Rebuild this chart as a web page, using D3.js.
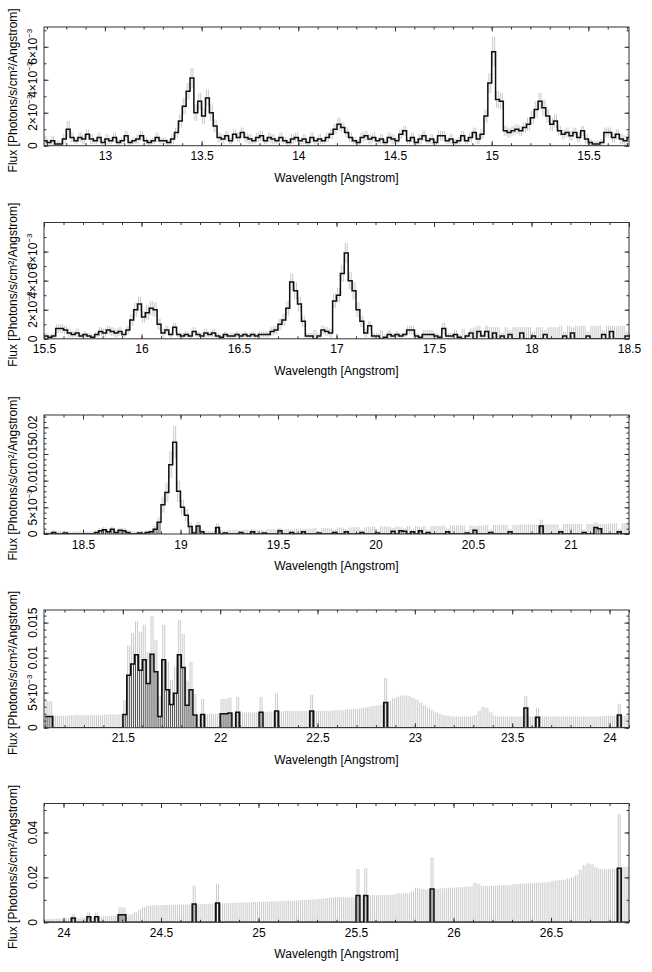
<!DOCTYPE html>
<html>
<head>
<meta charset="utf-8">
<script src="https://cdn.jsdelivr.net/npm/d3@7"></script>
<style>
  body { margin: 0; background: #fff; }
  svg { display: block; font-family: "Liberation Sans", Arial, Helvetica, sans-serif; }
</style>
</head>
<body>
<div id="chart"></div>
<script>
const width = 652;
const height = 972;
const plotLeft = 44;
const plotRight = 629;
const binWidth = 0.02;   // Angstrom
const unit = 1e-4;       // flux arrays are in units of 1e-4 photons/s/cm2/A
const fontSize = 12;

// panel geometry (px) and ranges
const panelTop = [27, 222.5, 415, 610, 803.5];
const panelBottom = [145.7, 338.8, 534, 727.7, 922.3];
const xDomains = [[12.685, 15.71], [15.5, 18.5], [18.3, 21.3], [21.095, 24.1], [23.9, 26.9]];
const yMax = [7.2e-3, 8e-3, 0.0223, 0.0168, 0.0529];
const binStart = [12.68, 15.50, 18.30, 21.10, 23.90];
// low-count panels: bars with large relative error are drawn hatched dark
const darkUnder = [false, false, true, true, true];

// tick marks / labels
const xMajorTicks = [
  [13, 13.5, 14, 14.5, 15, 15.5],
  [15.5, 16, 16.5, 17, 17.5, 18, 18.5],
  [18.5, 19, 19.5, 20, 20.5, 21],
  [21.5, 22, 22.5, 23, 23.5, 24],
  [24, 24.5, 25, 25.5, 26, 26.5]
];
const yTicks = [
  [0, 0.002, 0.004, 0.006],
  [0, 0.002, 0.004, 0.006],
  [0, 0.005, 0.01, 0.015, 0.02],
  [0, 0.005, 0.01, 0.015],
  [0, 0.02, 0.04]
];
const yTickLabels = [
  ['0', '2×10|−3', '4×10|−3', '6×10|−3'],
  ['0', '2×10|−3', '4×10|−3', '6×10|−3'],
  ['0', '5×10|−3', '0.01', '0.015', '0.02'],
  ['0', '5×10|−3', '0.01', '0.015'],
  ['0', '0.02', '0.04']
];
const yMinorStep = [0.001, 0.001, 0.001, 0.001, 0.01];

// flux per 0.02 A bin (1e-4 units)
const flux1 = [3,2,3,1,1,4,10,5,3,5, 4,7,4,3,5,2,4,3,5,2, 3,6,2,3,4,6,3,2,3,5,
  3,3,2,4,8,15,24,33,41,20, 27,18,29,20,12,5,4,6,3,7, 5,8,5,4,3,5,6,3,5,4,
  3,5,3,2,4,5,3,4,2,5, 3,4,3,5,7,10,13,11,8,5, 3,2,5,6,4,5,3,4,2,5,
  4,3,7,9,3,5,2,4,6,3, 4,2,6,6,3,4,2,3,6,3, 5,8,4,7,18,38,57,28,27,9,
  8,9,10,9,11,13,17,22,27,23, 18,13,15,9,7,8,6,8,5,9, 4,2,1,1,2,8,8,5,7,4, 3,5];
const err1 = [3,2,3,2,2,3,5,3,2,3, 3,3,3,2,3,2,3,2,3,2, 2,3,2,2,3,3,2,2,2,3,
  2,2,2,3,3,4,5,5,6,5, 5,5,5,5,4,3,3,3,2,3, 3,3,3,3,2,3,3,2,3,3,
  2,3,2,2,3,3,2,3,2,3, 2,3,2,3,3,3,4,3,3,3, 2,2,3,3,3,3,2,3,2,3,
  3,2,3,3,2,3,2,3,3,2, 3,2,3,3,2,3,2,2,3,2, 3,3,3,3,4,6,9,5,5,3,
  3,3,3,3,3,4,4,5,5,5, 4,4,4,3,3,3,3,3,3,3, 3,2,2,2,2,3,3,3,3,3, 3,3];

const flux2 = [2,1,2,7,7,6,4,3,4,2, 3,2,1,3,5,4,6,5,4,5, 3,6,13,20,24,15,18,21,20,10,
  4,6,3,8,3,2,3,2,5,3, 2,4,3,4,2,1,3,2,2,3, 2,3,2,3,2,3,3,3,5,6,
  10,13,21,39,33,24,12,2,2,0, 2,6,5,4,26,30,45,59,40,33, 20,12,4,9,2,2,0,1,3,2,
  3,2,3,6,6,2,1,3,3,3, 2,1,7,2,2,3,1,0,2,4, 0,5,2,5,0,4,0,2,0,3,
  0,0,4,0,0,2,0,0,3,0, 0,0,0,2,0,4,0,0,0,2, 0,0,0,3,0,5,0,0,0,2];
const err2 = [2,2,2,3,3,3,3,2,3,2, 2,2,2,2,3,3,3,3,3,3, 2,3,4,5,5,4,5,5,5,4,
  3,3,2,3,2,2,2,2,3,2, 2,3,2,3,2,2,2,2,2,2, 2,2,2,2,2,2,2,2,3,3,
  4,4,5,6,6,5,4,2,2,6, 2,3,3,3,5,5,6,7,6,6, 5,4,3,3,2,2,6,2,3,2,
  2,2,2,3,3,2,2,3,3,3, 2,2,4,2,2,3,2,7,2,3, 8,4,2,4,8,4,8,2,8,3,
  8,8,4,8,8,3,8,8,3,8, 8,8,9,3,9,4,9,9,9,3, 9,9,9,3,9,4,9,9,9,3];

const flux3 = [0,0,3,0,0,2,0,0,0,0, 0,0,0,3,6,8,4,9,3,7, 6,3,0,0,2,0,3,4,9,22,
  55,78,130,172,80,50,35,14,2,15, 4,0,0,0,12,0,2,0,0,0, 3,0,0,4,0,0,2,0,0,0,
  6,0,0,3,0,0,4,0,0,0, 2,0,0,0,3,0,0,4,0,0, 0,3,0,0,0,2,0,0,0,5,
  0,6,5,0,4,0,6,0,3,0, 0,0,0,4,0,0,0,0,2,0, 7,0,0,0,3,0,0,0,0,4,
  0,0,0,0,0,0,0,15,0,0, 0,0,4,0,0,0,0,0,3,0, 0,12,10,0,0,0,0,4,0,0];
const err3 = [5,5,4,5,5,4,5,5,5,5, 5,5,5,4,5,5,4,5,4,5, 5,4,5,5,4,5,4,4,6,9,
  15,18,25,30,20,14,12,8,5,8, 5,6,6,6,8,7,4,7,7,8, 4,8,8,5,8,8,4,9,9,9,
  6,9,9,5,10,10,5,10,10,11, 4,11,11,11,5,12,12,5,12,13, 13,5,13,13,14,4,14,14,14,6,
  14,7,6,15,6,15,7,15,5,15, 15,15,16,6,16,16,16,16,5,16, 8,16,16,17,5,17,17,17,17,6,
  17,17,18,18,18,18,18,12,18,18, 18,18,6,19,19,19,19,19,5,19, 19,10,9,19,19,20,20,6,20,20];

const flux4 = [16,16,0,0,0,0,0,0,0,0, 0,0,0,0,0,0,0,0,0,0,
  19,75,91,104,82,97,63,105,80,16, 97,54,33,49,104,86,32,54,18,0,
  19,0,0,0,0,20,20,21,0,22, 0,0,0,0,0,22,0,0,0,24, 0,0,0,0,0,0,0,0,24,0,
  0,0,0,0,0,0,0,0,0,0, 0,0,0,0,0,0,0,36,0,0, 0,0,0,0,0,0,0,0,0,0,
  0,0,0,0,0,0,0,0,0,0, 0,0,0,0,0,0,0,0,0,0, 0,0,0,28,0,0,15,0,0,0,
  0,0,0,0,0,0,0,0,0,0, 0,0,0,0,0,0,0,18,0,0];
const err4 = [22,22,17,17,17,17,18,18,18,18, 18,18,18,18,18,19,19,19,19,19,
  20,42,44,48,55,50,45,55,45,30, 50,40,35,38,50,48,35,40,30,19,
  22,19,20,20,20,21,21,22,21,22, 22,22,22,22,22,22,22,23,23,25, 23,24,24,24,24,24,24,24,23,24,
  24,24,24,24,25,25,25,26,26,27, 27,28,29,30,31,32,33,35,38,42, 44,46,46,45,43,40,36,32,28,25,
  22,20,18,17,16,16,16,16,16,16, 18,24,30,28,22,17,16,16,16,16, 16,16,16,17,16,16,13,16,16,16,
  16,16,16,16,16,16,16,16,16,16, 16,16,16,17,17,17,17,16,17,17];

const flux5 = [0,0,0,0,0,0,0,19,0,0, 0,25,0,25,0,0,0,0,0,34, 34,0,0,0,0,0,0,0,0,0,
  0,0,0,0,0,0,0,0,81,0, 0,0,0,0,86,0,0,0,0,0, 0,0,0,0,0,0,0,0,0,0,
  0,0,0,0,0,0,0,0,0,0, 0,0,0,0,0,0,0,0,0,0, 119,0,119,0,0,0,0,0,0,0,
  0,0,0,0,0,0,0,0,0,148, 0,0,0,0,0,0,0,0,0,0, 0,0,0,0,0,0,0,0,0,0,
  0,0,0,0,0,0,0,0,0,0, 0,0,0,0,0,0,0,0,0,0, 0,0,0,0,0,0,0,241,0,0];
const err5 = [15,15,16,16,17,18,19,18,20,21, 22,19,24,19,26,27,28,29,30,33, 33,33,36,45,56,66,73,75,76,76,
  77,77,78,78,78,79,79,80,82,80, 81,81,82,83,84,84,85,86,86,87, 88,89,89,90,90,91,92,92,93,94,
  94,95,96,96,97,98,99,100,101,102, 104,106,108,110,111,112,112,111,111,111, 118,120,121,120,121,121,121,121,122,123,
  129,129,130,130,138,153,150,147,147,142, 150,151,152,153,154,155,156,157,158,160, 176,170,162,162,163,163,164,164,165,166,
  170,171,172,173,174,175,176,176,177,178, 185,186,188,190,195,200,210,235,255,262, 258,245,237,237,237,237,237,240,247,247];

const fluxes = [flux1, flux2, flux3, flux4, flux5];
const errors = [err1, err2, err3, err4, err5];

const svg = d3.select('#chart')
  .append('svg')
  .attr('width', width)
  .attr('height', height);

svg.append('rect').attr('width', width).attr('height', height).attr('fill', '#fff');

const tickFmt = d3.format('~g');

fluxes.forEach((flux, k) => {
  const x = d3.scaleLinear().domain(xDomains[k]).range([plotLeft, plotRight]);
  const y = d3.scaleLinear().domain([0, yMax[k]]).range([panelBottom[k], panelTop[k]]);
  const g = svg.append('g');

  const clipId = `clip${k}`;
  svg.append('clipPath').attr('id', clipId)
    .append('rect')
    .attr('x', plotLeft).attr('y', panelTop[k])
    .attr('width', plotRight - plotLeft).attr('height', panelBottom[k] - panelTop[k]);

  const bins = flux.map((v, i) => ({
    lo: binStart[k] + i * binWidth,
    v: v * unit,
    e: errors[k][i] * unit
  }));

  const plot = g.append('g').attr('clip-path', `url(#${clipId})`);

  // error bars, two strokes per bin so the hatching is as dense as the original
  const strokes = bins.flatMap((b) => [0.25, 0.75].flatMap((f) => {
    const xs = b.lo + f * binWidth;
    const dark = darkUnder[k] && b.v > 0 && b.e >= 0.4 * b.v;
    return [
      dark
        ? { xs, y1: 0, y2: b.v, c: '#3a3a3a' }
        : { xs, y1: Math.max(0, b.v - b.e), y2: b.v, c: '#c4c4c4' },
      { xs, y1: b.v, y2: b.v + b.e, c: '#c4c4c4' }
    ];
  }));

  plot.append('g')
    .selectAll('line')
    .data(strokes)
    .join('line')
    .attr('x1', (d) => x(d.xs))
    .attr('x2', (d) => x(d.xs))
    .attr('y1', (d) => y(d.y1))
    .attr('y2', (d) => y(d.y2))
    .attr('stroke', (d) => d.c)
    .attr('stroke-width', 0.9);

  // histogram
  const pts = bins.map((b) => [b.lo, b.v]);
  pts.push([bins[bins.length - 1].lo + binWidth, bins[bins.length - 1].v]);
  plot.append('path')
    .attr('d', d3.line().x((d) => x(d[0])).y((d) => y(d[1])).curve(d3.curveStepAfter)(pts))
    .attr('fill', 'none')
    .attr('stroke', '#111')
    .attr('stroke-width', 1.5);

  // frame
  g.append('rect')
    .attr('x', plotLeft).attr('y', panelTop[k])
    .attr('width', plotRight - plotLeft).attr('height', panelBottom[k] - panelTop[k])
    .attr('fill', 'none').attr('stroke', '#333').attr('stroke-width', 1);

  const xMinor = d3.range(Math.ceil(xDomains[k][0] * 10), Math.floor(xDomains[k][1] * 10) + 1).map((t) => t / 10);
  const yMinor = d3.range(0, yMax[k], yMinorStep[k]);

  const axes = [
    [d3.axisBottom(x).tickValues(xMinor).tickSize(-2.5).tickFormat(''), `translate(0,${panelBottom[k]})`],
    [d3.axisTop(x).tickValues(xMinor).tickSize(-2.5).tickFormat(''), `translate(0,${panelTop[k]})`],
    [d3.axisBottom(x).tickValues(xMajorTicks[k]).tickSize(-4.5).tickPadding(6).tickFormat(tickFmt), `translate(0,${panelBottom[k]})`],
    [d3.axisTop(x).tickValues(xMajorTicks[k]).tickSize(-4.5).tickFormat(''), `translate(0,${panelTop[k]})`],
    [d3.axisLeft(y).tickValues(yMinor).tickSize(-2.5).tickFormat(''), `translate(${plotLeft},0)`],
    [d3.axisRight(y).tickValues(yMinor).tickSize(-2.5).tickFormat(''), `translate(${plotRight},0)`],
    [d3.axisLeft(y).tickValues(yTicks[k]).tickSize(-4.5).tickFormat(''), `translate(${plotLeft},0)`],
    [d3.axisRight(y).tickValues(yTicks[k]).tickSize(-4.5).tickFormat(''), `translate(${plotRight},0)`]
  ];
  axes.forEach(([ax, tr]) => {
    const a = g.append('g').attr('transform', tr).call(ax);
    a.select('.domain').remove();
    a.selectAll('line').attr('stroke', '#333');
    a.selectAll('text').attr('font-size', fontSize).attr('fill', '#000')
      .attr('font-family', '"Liberation Sans", Arial, sans-serif');
  });

  // y tick labels, rotated
  yTicks[k].forEach((t, i) => {
    const [base, sup] = yTickLabels[k][i].split('|');
    const txt = g.append('text')
      .attr('transform', `translate(36.5,${y(t)}) rotate(-90)`)
      .attr('text-anchor', 'middle')
      .attr('font-size', fontSize)
      .text(base);
    if (sup) {
      txt.append('tspan').attr('font-size', 8).attr('dy', -4.5).text(sup);
    }
  });

  g.append('text')
    .attr('x', (plotLeft + plotRight) / 2)
    .attr('y', panelBottom[k] + 36)
    .attr('text-anchor', 'middle')
    .attr('font-size', fontSize)
    .text('Wavelength [Angstrom]');

  g.append('text')
    .attr('transform', `translate(17,${(panelTop[k] + panelBottom[k]) / 2 + 4}) rotate(-90)`)
    .attr('text-anchor', 'middle')
    .attr('font-size', fontSize)
    .text('Flux [Photons/s/cm²/Angstrom]');
});
</script>
</body>
</html>
